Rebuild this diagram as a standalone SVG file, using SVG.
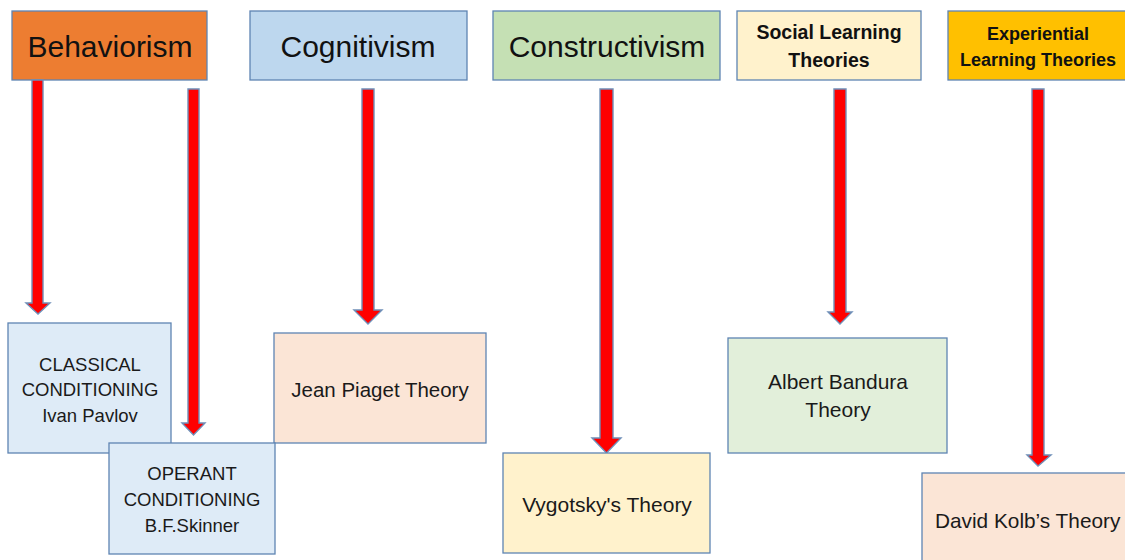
<svg xmlns="http://www.w3.org/2000/svg" width="1125" height="560" viewBox="0 0 1125 560">
  <style>
    .box { stroke: #5E84B3; stroke-width: 1.3; }
    .arrow { fill: #FF0000; stroke: #6F8FB8; stroke-width: 1.4; stroke-linejoin: miter; }
    .big { font-family: "Liberation Sans", Arial, sans-serif; font-size: 30px; fill: #111; text-anchor: middle; }
    .bold { font-family: "Liberation Sans", Arial, sans-serif; font-weight: bold; fill: #111; text-anchor: middle; }
    .lbl { font-family: "Liberation Sans", Arial, sans-serif; fill: #1a1a1a; text-anchor: middle; }
    .lbl.start { text-anchor: start; }
  </style>
  <rect width="1125" height="560" fill="#FFFFFF"/>

  <!-- top category headers -->
  <g id="behaviorism">
    <rect class="box" x="12" y="11" width="195" height="69" fill="#ED7D31"/>
    <text class="big" x="110" y="57">Behaviorism</text>
  </g>
  <g id="cognitivism">
    <rect class="box" x="250" y="11" width="217" height="69" fill="#BDD7EE"/>
    <text class="big" x="358" y="57">Cognitivism</text>
  </g>
  <g id="constructivism">
    <rect class="box" x="493" y="11" width="227" height="69" fill="#C5E0B4"/>
    <text class="big" x="607" y="57">Constructivism</text>
  </g>
  <g id="social-learning">
    <rect class="box" x="737" y="11" width="184" height="69" fill="#FFF2CC"/>
    <text class="bold" font-size="19.5" x="829" y="39">Social Learning</text>
    <text class="bold" font-size="19.5" x="829" y="67">Theories</text>
  </g>
  <g id="experiential-learning">
    <rect class="box" x="948" y="11" width="185" height="69" fill="#FFC000"/>
    <text class="bold" font-size="18" x="1038" y="40">Experiential</text>
    <text class="bold" font-size="18" x="1038" y="66">Learning Theories</text>
  </g>

  <!-- downward block arrows -->
  <g id="connectors">
    <path class="arrow" d="M32,80 H43 V303 H50 L38,314 L26,303 H32 Z"/>
    <path class="arrow" d="M188,89 H199 V423 H205 L193.5,435 L182,423 H188 Z"/>
    <path class="arrow" d="M362,89 H374 V310 H382 L368,324 L354,310 H362 Z"/>
    <path class="arrow" d="M600,89 H613 V438 H621 L606.5,453 L592,438 H600 Z"/>
    <path class="arrow" d="M834,89 H846 V312 H852 L840,324 L828,312 H834 Z"/>
    <path class="arrow" d="M1032,89 H1044 V455 H1051 L1038,466 L1027,455 H1032 Z"/>
  </g>

  <!-- theory boxes -->
  <g id="classical-conditioning">
    <rect class="box" x="8" y="323" width="163" height="130" fill="#DEEBF7"/>
    <text class="lbl" font-size="18.5" x="90" y="371">CLASSICAL</text>
    <text class="lbl" font-size="18.5" x="90" y="396">CONDITIONING</text>
    <text class="lbl" font-size="18.5" x="90" y="422">Ivan Pavlov</text>
  </g>
  <g id="jean-piaget">
    <rect class="box" x="274" y="333" width="212" height="110" fill="#FBE5D6"/>
    <text class="lbl" font-size="20.5" x="380" y="397">Jean Piaget Theory</text>
  </g>
  <g id="operant-conditioning">
    <rect class="box" x="109" y="443" width="166" height="111" fill="#DEEBF7"/>
    <text class="lbl" font-size="18.5" x="192" y="480">OPERANT</text>
    <text class="lbl" font-size="18.5" x="192" y="506">CONDITIONING</text>
    <text class="lbl" font-size="18.5" x="192" y="532">B.F.Skinner</text>
  </g>
  <g id="vygotsky">
    <rect class="box" x="503" y="453" width="207" height="100" fill="#FFF2CC"/>
    <text class="lbl" font-size="21" x="607" y="512">Vygotsky's Theory</text>
  </g>
  <g id="albert-bandura">
    <rect class="box" x="728" y="338" width="219" height="115" fill="#E2EFDA"/>
    <text class="lbl" font-size="21" x="838" y="389">Albert Bandura</text>
    <text class="lbl" font-size="21" x="838" y="417">Theory</text>
  </g>
  <g id="david-kolb">
    <rect class="box" x="922" y="473" width="215" height="100" fill="#FBE5D6"/>
    <text class="lbl start" font-size="20.8" x="935" y="528">David Kolb’s Theory</text>
  </g>
</svg>
